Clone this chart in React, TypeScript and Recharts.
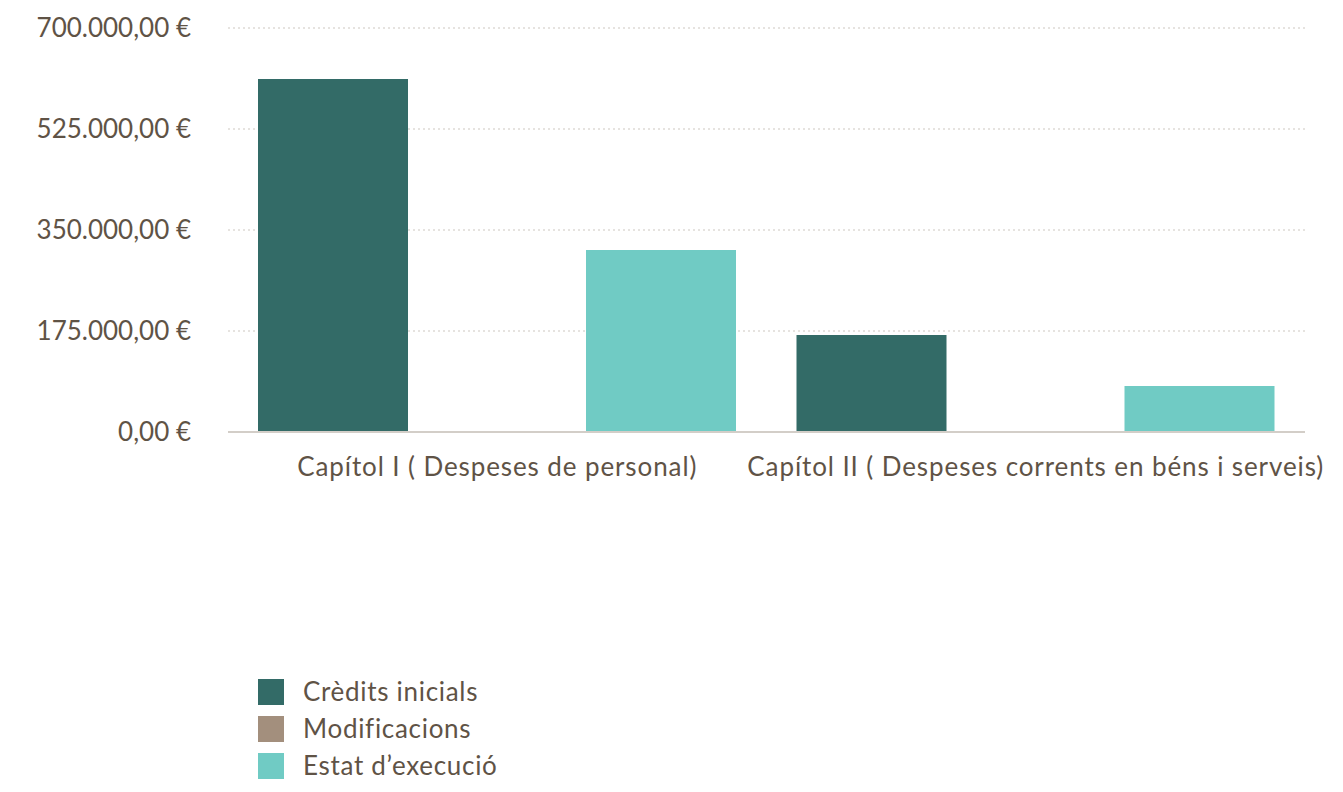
import React from 'react';
import { BarChart, Bar, XAxis, YAxis, CartesianGrid, Legend } from 'recharts';

const categories = ['Capítol I ( Despeses de personal)', 'Capítol II ( Despeses corrents en béns i serveis)'];
const creditsInicials = [611600, 168100];
const modificacions = [0, 0];
const estatExecucio = [315300, 79700];
const yTicks = [0, 175000, 350000, 525000, 700000];

const SERIES = [
  { key: 'credits', name: 'Crèdits inicials', color: '#336b67' },
  { key: 'modif', name: 'Modificacions', color: '#a38f7d' },
  { key: 'estat', name: 'Estat d\u2019execució', color: '#70cbc4' },
];

const TEXT = '#5f5346';
const FONT = 'Lato, "Open Sans", sans-serif';

const data = categories.map((name, i) => ({
  name,
  credits: creditsInicials[i],
  modif: modificacions[i],
  estat: estatExecucio[i],
}));

const formatEuro = (v: number) => {
  const [int, dec] = v.toFixed(2).split('.');
  return `${int.replace(/\B(?=(\d{3})+(?!\d))/g, '.')},${dec} €`;
};

const LegendBox = () => (
  <div style={{ fontFamily: FONT, height: 111 }}>
    {SERIES.map((s) => (
      <div key={s.key} style={{ display: 'flex', alignItems: 'center', height: 37 }}>
        <span style={{ width: 26, height: 26, background: s.color, display: 'inline-block', marginRight: 19 }} />
        <span style={{ color: TEXT, fontSize: 26, letterSpacing: 0.7, lineHeight: '37px' }}>{s.name}</span>
      </div>
    ))}
  </div>
);

const App: React.FC = () => {
  return (
    <div style={{ position: 'absolute', left: 0, top: 0, background: 'white', fontFamily: FONT }}>
      <BarChart
        width={1343}
        height={792}
        data={data}
        margin={{ top: 28, right: 38, left: 0, bottom: 10 }}
        barSize={150}
        barGap={14}
      >
        <CartesianGrid vertical={false} stroke="#cdc7c0" strokeDasharray="2 3" />
        <XAxis
          dataKey="name"
          height={239}
          tickLine={false}
          tickSize={0}
          tickMargin={26}
          axisLine={{ stroke: '#d3cec8', strokeWidth: 2 }}
          tick={{ fill: TEXT, fontSize: 26, fontFamily: FONT, letterSpacing: 0.9 }}
          interval={0}
        />
        <YAxis
          width={228}
          domain={[0, 700000]}
          ticks={yTicks}
          tickFormatter={formatEuro}
          axisLine={false}
          tickLine={false}
          tickSize={0}
          tickMargin={37}
          tick={{ fill: TEXT, fontSize: 26, fontFamily: FONT }}
        />
        <Legend
          layout="horizontal"
          verticalAlign="bottom"
          align="left"
          content={<LegendBox />}
          wrapperStyle={{ left: 258, top: 673, bottom: 'auto', width: 400 }}
        />
        {SERIES.map((s) => (
          <Bar key={s.key} dataKey={s.key} name={s.name} fill={s.color} isAnimationActive={false} />
        ))}
      </BarChart>
    </div>
  );
};

export default App;
